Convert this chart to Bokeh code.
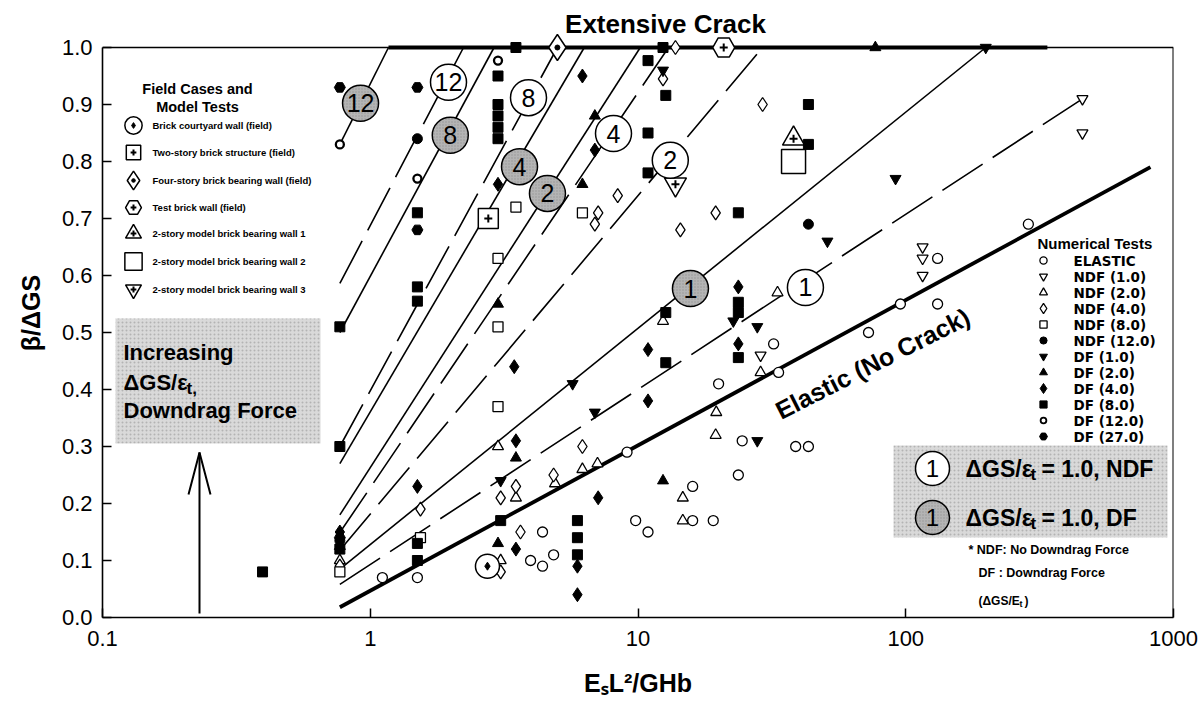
from bokeh.plotting import figure
from bokeh.models import Range1d, FixedTicker, CustomJSTickFormatter, Label, BoxAnnotation
from bokeh.embed import file_html
from bokeh.resources import INLINE
from bokeh.core.properties import value

# ---------------- data ----------------
x_ticks = [0.1, 1, 10, 100, 1000]
y_ticks = [0.0, 0.1, 0.2, 0.3, 0.4, 0.5, 0.6, 0.7, 0.8, 0.9, 1.0]

# numerical tests (x = EsL^2/GHb, y = beta/dGS)
elastic_x = [1.11, 1.5, 3.97, 4.4, 4.84, 4.4, 9.1, 9.8, 10.9, 16.0, 16.0, 19.1, 20.0, 23.7, 24.5,
             32.1, 33.5, 38.8, 43.3, 72.6, 95.5, 131.5, 131.5, 287]
elastic_y = [0.07, 0.07, 0.10, 0.09, 0.11, 0.15, 0.29, 0.17, 0.15, 0.23, 0.17, 0.17, 0.41, 0.25, 0.31,
             0.48, 0.43, 0.30, 0.30, 0.50, 0.55, 0.55, 0.63, 0.69]
ndf1_x = [457, 457, 115.6, 115.6, 115.6, 28.7]
ndf1_y = [0.91, 0.85, 0.65, 0.63, 0.60, 0.46]
ndf2_x = [28.7, 19.5, 19.6, 14.7, 14.7, 12.4, 33.2, 6.2, 7.06, 4.9, 3.0, 3.5, 3.07, 0.77]
ndf2_y = [0.43, 0.32, 0.36, 0.21, 0.17, 0.52, 0.57, 0.26, 0.27, 0.235, 0.30, 0.21, 0.10, 0.10]
ndf4_x = [1.54, 3.07, 3.5, 3.07, 3.64, 4.84, 6.2, 8.4, 7.1, 6.9, 14.4, 19.5, 29.2, 12.4, 13.8, 0.77]
ndf4_y = [0.19, 0.21, 0.23, 0.08, 0.15, 0.25, 0.30, 0.74, 0.71, 0.69, 0.68, 0.71, 0.90, 0.945, 1.0, 0.09]
ndf8_x = [3.0, 3.0, 3.0, 3.5, 6.2, 1.54, 0.77]
ndf8_y = [0.63, 0.51, 0.37, 0.72, 0.71, 0.14, 0.08]
ndf12_x = [43.3, 1.5, 0.77]
ndf12_y = [0.69, 0.84, 0.135]
df1_x = [3.07, 5.7, 6.9, 27.9, 22.7, 27.9, 51, 91.6, 12.4, 199]
df1_y = [0.24, 0.41, 0.36, 0.31, 0.52, 0.51, 0.66, 0.77, 0.96, 1.0]
df2_x = [3.0, 3.5, 3.0, 6.2, 6.9, 12.4, 77, 0.77]
df2_y = [0.55, 0.28, 0.13, 0.76, 0.88, 0.24, 1.0, 0.125]
df4_x = [3.45, 3.5, 3.5, 3.0, 1.5, 6.2, 6.9, 7.1, 5.94, 5.94, 10.9, 10.9, 23.7, 23.7, 0.77]
df4_y = [0.44, 0.31, 0.12, 0.76, 0.23, 0.95, 0.82, 0.21, 0.09, 0.04, 0.47, 0.38, 0.48, 0.58, 0.15]
df8_x = [0.396, 0.77, 0.77, 0.77, 1.5, 1.5, 1.5, 1.5, 1.5, 3.0, 3.0, 3.0, 3.0, 3.0, 3.5, 3.07,
         5.94, 5.94, 5.94, 10.9, 12.4, 12.7, 10.9, 10.9, 12.7, 12.7, 23.7, 23.7, 23.7, 23.7, 43.3, 43.3]
df8_y = [0.08, 0.51, 0.30, 0.12, 0.71, 0.58, 0.555, 0.13, 0.10, 0.95, 0.90, 0.88, 0.86, 0.84, 1.0, 0.17,
         0.17, 0.14, 0.11, 0.977, 1.0, 0.916, 0.85, 0.78, 0.447, 0.535, 0.71, 0.456, 0.553, 0.535, 0.90, 0.83]
df12_x = [0.77, 1.5, 3.0]
df12_y = [0.83, 0.77, 0.977]
df27_x = [0.77, 1.5, 1.5, 0.77]
df27_y = [0.93, 0.93, 0.68, 0.14]

# field cases and model tests
courtyard_x, courtyard_y = [2.74], [0.09]
two_story_x, two_story_y = [2.76], [0.70]
four_story_x, four_story_y = [5.0], [1.0]
test_wall_x, test_wall_y = [20.9], [1.0]
model1_x, model1_y = [38.1], [0.84]
model2_x, model2_y = [38.1], [0.80]
model3_x, model3_y = [13.8], [0.76]

# trend lines for each dGS/eps_t ratio
ratios = [1, 2, 4, 8, 12]
line_start_x = 0.77
ndf_line_start_y = [0.058, 0.118, 0.149, 0.30, 0.586]
ndf_line_end_x = [457, 29.2, 13.0, 5.0, 2.23]
ndf_line_end_y = [0.91, 1.0, 1.0, 1.0, 1.0]
df_line_start_y = [0.085, 0.18, 0.27, 0.50, 0.83]
df_line_end_x = [199, 10.2, 6.3, 2.9, 1.17]
df_line_end_y = [1.0, 1.0, 1.0, 1.0, 1.0]
elastic_line_x = [0.77, 820]
elastic_line_y = [0.018, 0.79]
crack_line_x = [1.17, 338]
crack_line_y = [1.0, 1.0]

# positions of the ratio tags on the lines
ndf_tag_x = [42.2, 13.2, 8.1, 3.9, 1.96]
ndf_tag_y = [0.579, 0.802, 0.849, 0.912, 0.939]
df_tag_x = [15.7, 4.59, 3.61, 1.99, 0.92]
df_tag_y = [0.577, 0.744, 0.791, 0.846, 0.902]

numerical_names = ["ELASTIC", "NDF (1.0)", "NDF (2.0)", "NDF (4.0)", "NDF (8.0)", "NDF (12.0)",
                   "DF (1.0)", "DF (2.0)", "DF (4.0)", "DF (8.0)", "DF (12.0)", "DF (27.0)"]
field_names = ["Brick courtyard wall (field)", "Two-story brick structure (field)",
               "Four-story brick bearing wall (field)", "Test brick wall (field)",
               "2-story model brick bearing wall 1", "2-story model brick bearing wall 2",
               "2-story model brick bearing wall 3"]

# ---------------- layout helpers (pixel -> data) ----------------
PX_DEC = 267.75


def fx(px):
    return 10 ** ((px - 102) / PX_DEC - 1)


def fy(py):
    return (617 - py) / 570


Y_TOP = fy(8)

p = figure(width=1198, height=711, x_axis_type="log", title=None,
           x_range=Range1d(0.1, 1000), y_range=Range1d(0, Y_TOP),
           output_backend="svg", toolbar_location=None,
           min_border_left=102, min_border_right=25, min_border_top=8, min_border_bottom=94)
p.outline_line_color = None
p.grid.visible = False
p.background_fill_color = "white"
p.border_fill_color = "white"

for ax in (p.xaxis[0], p.yaxis[0]):
    ax.axis_line_width = 1.6
    ax.axis_line_color = "black"
    ax.major_tick_in = 9
    ax.major_tick_out = 0
    ax.major_tick_line_width = 1.5
    ax.minor_tick_line_color = None
    ax.major_label_text_font = "Liberation Sans"
    ax.major_label_text_font_size = "22px"
    ax.major_label_text_color = "black"
    ax.axis_label_text_font = "Liberation Sans"
    ax.axis_label_text_font_style = "bold"
    ax.axis_label_text_font_size = "25px"
    ax.axis_label_text_color = "black"

p.xaxis.ticker = FixedTicker(ticks=x_ticks, minor_ticks=[])
p.xaxis.formatter = CustomJSTickFormatter(code="return tick < 1 ? tick.toFixed(1) : tick.toFixed(0);")
p.xaxis.major_label_standoff = 13
p.xaxis.axis_label = "EₛL²/GHb"
p.xaxis.axis_label_standoff = 20
p.yaxis.ticker = FixedTicker(ticks=y_ticks, minor_ticks=[])
p.yaxis.formatter = CustomJSTickFormatter(code="return tick.toFixed(1);")
p.yaxis.bounds = (0, 1)
p.yaxis.major_label_standoff = 10
p.yaxis.axis_label = "β/ΔGS"
p.yaxis.axis_label_standoff = 14

# frame top and right edges
p.line([0.1, 1000], [1.0, 1.0], line_color="black", line_width=1.5)
p.line([1000, 1000], [0, 1.0], line_color="black", line_width=2)

# shaded note boxes
box_kw = dict(fill_color="#d9d9d9", fill_alpha=1, line_color=None, hatch_pattern=".",
              hatch_color="#9a9a9a", hatch_scale=4, hatch_alpha=0.6, level="underlay")
p.add_layout(BoxAnnotation(left=fx(115), right=fx(320), top=fy(318), bottom=fy(443), **box_kw))
p.add_layout(BoxAnnotation(left=fx(893), right=fx(1167), top=fy(445), bottom=fy(537), **box_kw))

# trend lines
for i in range(len(ratios)):
    p.line([line_start_x, ndf_line_end_x[i]], [ndf_line_start_y[i], ndf_line_end_y[i]],
           line_color="black", line_width=1.6, line_dash="48 12")
    p.line([line_start_x, df_line_end_x[i]], [df_line_start_y[i], df_line_end_y[i]],
           line_color="black", line_width=1.6)
p.line(elastic_line_x, elastic_line_y, line_color="black", line_width=3.8)
p.line(crack_line_x, crack_line_y, line_color="black", line_width=3.8)

# numerical test markers
num_styles = [
    (elastic_x, elastic_y, "circle", 10, "white", 1.3),
    (ndf1_x, ndf1_y, "inverted_triangle", 11, "white", 1.3),
    (ndf2_x, ndf2_y, "triangle", 11, "white", 1.3),
    (ndf4_x, ndf4_y, "diamond", 14, "white", 1.3),
    (ndf8_x, ndf8_y, "square", 10, "white", 1.3),
    (ndf12_x, ndf12_y, "circle", 10, "black", 1.0),
    (df1_x, df1_y, "inverted_triangle", 11, "black", 1.0),
    (df2_x, df2_y, "triangle", 11, "black", 1.0),
    (df4_x, df4_y, "diamond", 14, "black", 1.0),
    (df8_x, df8_y, "square", 10, "black", 1.0),
    (df12_x, df12_y, "circle", 8, "white", 2.3),
    (df27_x, df27_y, "hex", 11, "black", 1.0),
]
for xs, ys, mk, sz, fc, lw in num_styles:
    p.scatter(xs, ys, marker=mk, size=sz, fill_color=fc, line_color="black", line_width=lw)


def field_marker(xs, ys, kind, scale=1.0):
    if kind == 0:
        p.scatter(xs, ys, marker="circle", size=24 * scale, fill_color="white", line_color="black", line_width=1.5)
        p.scatter(xs, ys, marker="diamond", size=8 * scale, fill_color="black", line_color="black")
    elif kind == 1:
        p.scatter(xs, ys, marker="square", size=20 * scale, fill_color="white", line_color="black", line_width=1.5)
        p.scatter(xs, ys, marker="cross", size=8 * scale, line_color="black", line_width=2)
    elif kind == 2:
        p.scatter(xs, ys, marker="diamond", size=26 * scale, fill_color="white", line_color="black", line_width=1.5)
        p.scatter(xs, ys, marker="circle", size=5 * scale, fill_color="black", line_color="black")
    elif kind == 3:
        p.scatter(xs, ys, marker="hex", size=22 * scale, fill_color="white", line_color="black", line_width=1.5)
        p.scatter(xs, ys, marker="cross", size=8 * scale, line_color="black", line_width=2)
    elif kind == 4:
        p.scatter(xs, ys, marker="triangle", size=22 * scale, fill_color="white", line_color="black", line_width=1.5)
        p.scatter(xs, ys, marker="cross", size=8 * scale, line_color="black", line_width=2)
    elif kind == 5:
        p.scatter(xs, ys, marker="square", size=24 * scale, fill_color="white", line_color="black", line_width=1.5)
    else:
        p.scatter(xs, ys, marker="inverted_triangle", size=22 * scale, fill_color="white", line_color="black", line_width=1.5)
        p.scatter(xs, ys, marker="cross", size=8 * scale, line_color="black", line_width=2)


field_sets = [(courtyard_x, courtyard_y), (two_story_x, two_story_y), (four_story_x, four_story_y),
              (test_wall_x, test_wall_y), (model1_x, model1_y), (model2_x, model2_y), (model3_x, model3_y)]
for k, (xs, ys) in enumerate(field_sets):
    field_marker(xs, ys, k)

# ratio tags on the trend lines
tag_font = value("Liberation Sans")
p.scatter(ndf_tag_x, ndf_tag_y, marker="circle", size=36, fill_color="white", line_color="black", line_width=1.5)
p.scatter(df_tag_x, df_tag_y, marker="circle", size=36, fill_color="#b4b4b4", line_color="black", line_width=1.5,
          hatch_pattern=".", hatch_color="#777777", hatch_scale=3, hatch_alpha=0.5)
p.text(ndf_tag_x, ndf_tag_y, text=[str(r) for r in ratios], text_align="center", text_baseline="middle",
       text_font=tag_font, text_font_size="25px", text_color="black")
p.text(df_tag_x, df_tag_y, text=[str(r) for r in ratios], text_align="center", text_baseline="middle",
       text_font=tag_font, text_font_size="25px", text_color="black")

# arrow on the left
p.line([fx(199), fx(199)], [fy(613), fy(452)], line_color="black", line_width=2)
p.line([fx(188), fx(199), fx(210)], [fy(494), fy(452), fy(494)], line_color="black", line_width=2)


def lab(px, py, text, size, bold=False, font="Liberation Sans", align="left", baseline="middle",
        angle=0.0, xo=0, yo=0):
    p.add_layout(Label(x=fx(px), y=fy(py), text=text, text_font=font, text_font_size=f"{size}px",
                       text_font_style="bold" if bold else "normal", text_align=align,
                       text_baseline=baseline, angle=angle, x_offset=xo, y_offset=yo,
                       text_color="black"))


# titles and notes
lab(665, 23, "Extensive Crack", 26, bold=True, align="center")
lab(872, 363, "Elastic (No Crack)", 25, bold=True, align="center", angle=0.47)

lab(123, 352, "Increasing", 22, bold=True)
lab(123, 382, "ΔGS/ε", 22, bold=True)
lab(186, 388, "t,", 17, bold=True)
lab(123, 410, "Downdrag Force", 22, bold=True)

# numerical tests legend
lab(1037, 243, "Numerical Tests", 15, bold=True)
leg_y = [260 + 16 * i for i in range(12)]
for i, (xs, ys, mk, sz, fc, lw) in enumerate(num_styles):
    p.scatter([fx(1043)], [fy(leg_y[i])], marker=mk, size=sz * 0.72, fill_color=fc, line_color="black",
              line_width=min(lw, 1.8))
p.text([fx(1073)] * 12, [fy(v) for v in leg_y], text=numerical_names, text_baseline="middle",
       text_font=value("DejaVu Sans"), text_font_style="bold", text_font_size="13.5px", text_color="black")

# ratio key inside the lower-right box
p.scatter([fx(932)], [fy(468)], marker="circle", size=34, fill_color="white", line_color="black", line_width=1.5)
p.scatter([fx(932)], [fy(517)], marker="circle", size=34, fill_color="#b4b4b4", line_color="black",
          line_width=1.5, hatch_pattern=".", hatch_color="#777777", hatch_scale=3, hatch_alpha=0.5)
p.text([fx(932), fx(932)], [fy(468), fy(517)], text=["1", "1"], text_align="center", text_baseline="middle",
       text_font=tag_font, text_font_size="24px", text_color="black")
for py, tail in ((468, "= 1.0, NDF"), (517, "= 1.0, DF")):
    lab(965, py, "ΔGS/ε", 23, bold=True)
    lab(1030, py + 6, "t", 17, bold=True)
    lab(1041, py, tail, 23, bold=True)
lab(968, 549, "* NDF: No Downdrag Force", 12.5, bold=True)
lab(978, 572, "DF  : Downdrag Force", 12.5, bold=True)
lab(978, 600, "(ΔGS/E", 12, bold=True)
lab(1019, 603, "t", 9, bold=True)
lab(1024, 600, ")", 12, bold=True)

# field cases legend
lab(197, 88, "Field Cases and", 14.5, bold=True, align="center")
lab(197, 106, "Model Tests", 14.5, bold=True, align="center")
field_rows = [125, 152, 180, 207, 233, 261, 289]
for k, (xs, ys) in enumerate(field_sets):
    field_marker([fx(133)], [fy(field_rows[k])], k, scale=0.72)
p.text([fx(152)] * 7, [fy(v) for v in field_rows], text=field_names, text_baseline="middle",
       text_font=value("Liberation Sans"), text_font_style="bold", text_font_size="9.5px", text_color="black")

open("out.html", "w").write(file_html(p, INLINE))
